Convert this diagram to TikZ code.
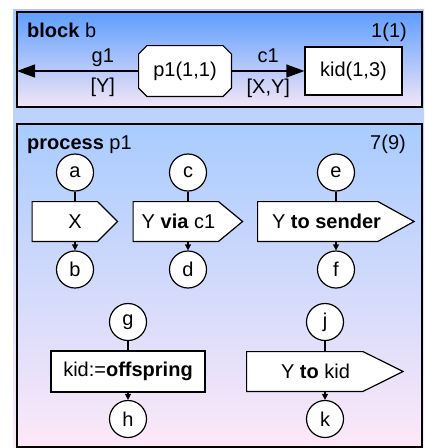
\documentclass[tikz,border=0pt]{standalone}
\usepackage{fontspec}
\setmainfont{Liberation Sans}
\usetikzlibrary{arrows.meta}
\definecolor{deepsky}{HTML}{5E9EFF}
\definecolor{sky}{HTML}{A8CCFF}
\definecolor{blush}{HTML}{FDE8F8}
\definecolor{lilac}{HTML}{F3E6F6}
\begin{document}
\begin{tikzpicture}[x=1pt, y=-1pt, font=\fontsize{20}{24}\selectfont, >={Triangle[length=6pt,width=6pt]},
	frame/.style={draw, line width=2pt},
	link/.style={line width=1.2pt},
	bigtip/.style={-{Triangle[length=18pt,width=13pt]}},
	state/.style={circle, draw, fill=white, line width=1.2pt, minimum size=37pt, inner sep=0pt},
	task/.style={rectangle, draw, fill=white, line width=1.2pt, minimum height=41pt, inner sep=0pt},
	lean/.style={execute at begin node={\hspace*{-19pt}}},
	sendbox/.style={rectangle, minimum height=41pt, inner sep=0pt, path picture={
		\draw[fill=white, line width=1.2pt]
		([shift={(.6pt,-.6pt)}]path picture bounding box.north west)
		-- ([shift={(-#1,-.6pt)}]path picture bounding box.north east)
		-- ([xshift=-.9pt]path picture bounding box.east)
		-- ([shift={(-#1,.6pt)}]path picture bounding box.south east)
		-- ([shift={(.6pt,.6pt)}]path picture bounding box.south west) -- cycle;}},
	gate/.style={rectangle, inner sep=0pt, path picture={
		\draw[fill=white, line width=1.2pt]
		([shift={(9pt,-.6pt)}]path picture bounding box.north west)
		-- ([shift={(-9pt,-.6pt)}]path picture bounding box.north east)
		-- ([shift={(-.6pt,-9pt)}]path picture bounding box.north east)
		-- ([shift={(-.6pt,9pt)}]path picture bounding box.south east)
		-- ([shift={(-9pt,.6pt)}]path picture bounding box.south east)
		-- ([shift={(9pt,.6pt)}]path picture bounding box.south west)
		-- ([shift={(.6pt,9pt)}]path picture bounding box.south west)
		-- ([shift={(.6pt,-9pt)}]path picture bounding box.north west) -- cycle;}},
	lab/.style={anchor=base, inner sep=0pt}]
	\def\rowa{172.5}\def\rowb{221.5}\def\rowc{269.5}
	\def\rowd{322}\def\rowe{371.5}\def\rowf{419}
	\useasboundingbox (0,0) rectangle (424,448);
	\fill[top color=sky, bottom color=blush] (13,9) rectangle (424,448);
	
	% block b
	\draw[frame, top color=deepsky, bottom color=lilac] (17,12) rectangle (422,107);
	\node[anchor=base west, inner sep=0pt] (btitle) at (27,37) {\textbf{block} b};
	\node[anchor=base east, inner sep=0pt] (bcount) at (407,37) {1(1)};
	\node[gate, minimum width=94pt, minimum height=52pt] (p1) at (185,71) {p1(1,1)};
	\node[task, minimum width=97pt, minimum height=48pt] (kid) at (353.5,71) {kid(1,3)};
	\coordinate (env) at (17,71);
	\draw[link, bigtip] (p1) -- (env)
		node[lab, pos=.29, yshift=9pt] (g1) {g1}
		node[lab, pos=.29, yshift=-21pt] (g1sig) {[Y]};
	\draw[link, bigtip] (p1) -- (kid)
		node[lab, midway, yshift=9pt] (c1) {c1}
		node[lab, midway, yshift=-22pt] (c1sig) {[X,Y]};
	
	% process p1
	\draw[frame, top color=sky, bottom color=blush] (17,124) rectangle (422,447);
	\node[anchor=base west, inner sep=0pt] (ptitle) at (27,149) {\textbf{process} p1};
	\node[anchor=base east, inner sep=0pt] (pcount) at (406,149) {7(9)};
	
	\node[state] (a) at (75,\rowa) {a};
	\node[state] (c) at (188,\rowa) {c};
	\node[state] (e) at (336,\rowa) {e};
	\node[sendbox=21pt, minimum width=87pt] (outx) at (75,\rowb) {X};
	\node[sendbox=25pt, lean, minimum width=111pt] (outy) at (188,\rowb) {Y \textbf{via} c1};
	\node[sendbox=37pt, lean, minimum width=158pt] (outsender) at (336,\rowb) {Y \textbf{to sender}};
	\node[state] (b) at (75,\rowc) {b};
	\node[state] (d) at (188,\rowc) {d};
	\node[state] (f) at (336,\rowc) {f};
	
	\node[state] (g) at (128,\rowd) {g};
	\node[state] (j) at (325,\rowd) {j};
	\node[task, minimum width=154pt] (spawn) at (128,\rowe) {kid:=\textbf{offspring}};
	\node[sendbox=41pt, lean, minimum width=158pt] (outkid) at (325,\rowe) {Y \textbf{to} kid};
	\node[state] (h) at (128,\rowf) {h};
	\node[state] (k) at (325,\rowf) {k};
	
	\draw[link] (a) -- (outx);
	\draw[link] (c) -- (outy);
	\draw[link] (e) -- (outsender);
	\draw[link] (g) -- (spawn);
	\draw[link] (j) -- (outkid);
	\draw[link, ->] (outx) -- (b);
	\draw[link, ->] (outy) -- (d);
	\draw[link, ->] (outsender) -- (f);
	\draw[link, ->] (spawn) -- (h);
	\draw[link, ->] (outkid) -- (k);
\end{tikzpicture}
\end{document}
